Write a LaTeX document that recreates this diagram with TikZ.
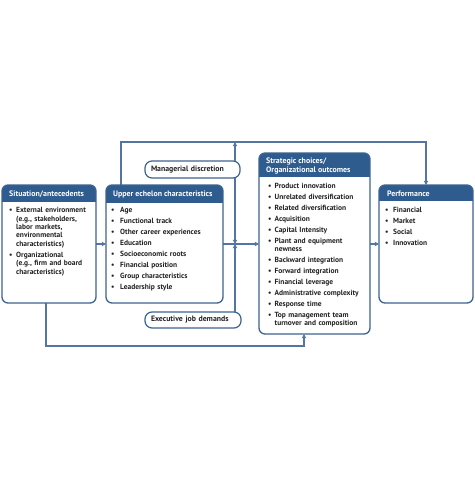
\documentclass[tikz,border=0pt]{standalone}
\usepackage{fontspec}
\setmainfont{PT Sans}
\usetikzlibrary{arrows.meta}
\definecolor{hdr}{HTML}{2E5C8F}
\definecolor{bord}{HTML}{3D6391}
\definecolor{conn}{HTML}{5474A2}
\definecolor{txt}{HTML}{222222}
\newlength\bind
\newcommand{\itm}[1]{\par\hangindent=\bind\hangafter=1\noindent\makebox[\bind][l]{\textbullet}#1}
\newcommand{\panel}[2]{%
  \fill[white, rounded corners=6pt] (#1.north west) rectangle (#1.south east);
  \begin{scope}
    \clip[rounded corners=6pt] (#1.north west) rectangle (#1.south east);
    \fill[hdr] (#1.north west) rectangle ([yshift=-#2]#1.north east);
  \end{scope}
  \draw[bord, line width=1.3pt, rounded corners=6pt] (#1.north west) rectangle (#1.south east);}
\begin{document}
\begin{tikzpicture}[x=1pt,y=-1pt,
  boxarea/.style={minimum width=#1, inner sep=0pt, outer sep=0pt},
  hdrtext/.style={text=white, font=\bfseries\fontsize{7.9}{9}\selectfont, inner sep=0pt, align=left},
  listtext/.style={text=txt, font=\bfseries\fontsize{7.45}{8.4}\selectfont, inner sep=0pt, anchor=north west, align=left},
  pill/.style={draw=bord, line width=1.2pt, rounded corners=7pt, fill=white, inner xsep=6pt, inner ysep=0pt, outer sep=0pt,
     text=txt, font=\bfseries\fontsize{7.8}{8.4}\selectfont, align=left},
  connector/.style={draw=conn, line width=1.1pt, -{Triangle[width=4.2pt,length=4.2pt]}}
]
\useasboundingbox[fill=white] (0,0) rectangle (474,484);

% panels
\node[boxarea=94pt, minimum height=118pt] (sit) at (49,244) {};
\node[boxarea=117pt, minimum height=118pt] (upp) at (164.5,244) {};
\node[boxarea=111pt, minimum height=181pt] (str) at (314.5,243.5) {};
\node[boxarea=94pt, minimum height=118pt] (perf) at (426,244) {};

% coordinates for connector bends
\coordinate (tl) at (121,142);
\coordinate (tr) at (426,142);
\coordinate (mtop) at (235,142);
\coordinate (mmid) at (235,244);
\coordinate (bl) at (46,346);
\coordinate (br) at (304,346);

% connectors
\draw[connector] ([xshift=15pt]upp.north west) -- (tl) -- (tr) -- (perf.north);
\draw[connector] (sit.south -| bl) -- (bl) -- (br) -- (br |- str.south);
\draw[connector] (sit.east) -- (upp.west);
\draw[connector] (upp.east) -- (upp.east -| str.west);
\draw[connector] (str.east |- perf.west) -- (perf.west);

\panel{sit}{17pt}
\panel{upp}{18pt}
\panel{str}{24pt}
\panel{perf}{16pt}

% moderators
\node[pill, text width=83pt, minimum height=17pt] (mgr) at (192.5,169.5) {Managerial discretion};
\node[pill, text width=84pt, minimum height=16pt] (exe) at (193,320) {Executive job demands};
\draw[connector] (mgr.north -| mtop) -- (mtop);
\draw[connector] (mgr.south -| mtop) -- (mmid);
\draw[connector] (exe.north -| mtop) -- (mmid);

% headers
\node[hdrtext, anchor=west] (sith) at (9,194) {Situation/antecedents};
\node[hdrtext, anchor=west] (upph) at (113,194.5) {Upper echelon characteristics};
\node[hdrtext, anchor=west] (strh) at (266,166) {Strategic choices/\\Organizational outcomes};
\node[hdrtext, anchor=west] (perfh) at (387,193.5) {Performance};

% lists
\node[listtext, text width=88pt] (sitl) at (9,201.5) {\setlength\bind{7pt}\setlength\parskip{2.6pt}%
\itm{\rule{0pt}{6pt}External environment\newline(e.g., stakeholders,\newline labor markets,\newline environmental\newline characteristics)}
\itm{Organizational\newline(e.g., firm and board\newline characteristics)}\par};

\node[listtext, text width=110pt] (uppl) at (111,201.5) {\setlength\bind{9pt}\setlength\parskip{2.6pt}%
\itm{\rule{0pt}{6pt}Age}
\itm{Functional track}
\itm{Other career experiences}
\itm{Education}
\itm{Socioeconomic roots}
\itm{Financial position}
\itm{Group characteristics}
\itm{Leadership style}\par};

\node[listtext, text width=108pt] (strl) at (268,176.8) {\setlength\bind{6.5pt}\setlength\parskip{2.6pt}%
\itm{\rule{0pt}{6pt}Product innovation}
\itm{Unrelated diversification}
\itm{Related diversification}
\itm{Acquisition}
\itm{Capital Intensity}
\itm{Plant and equipment\newline newness}
\itm{Backward integration}
\itm{Forward integration}
\itm{Financial leverage}
\itm{Administrative complexity}
\itm{Response time}
\itm{Top management team\newline turnover and composition}\par};

\node[listtext, text width=90pt] (perfl) at (385,201.5) {\setlength\bind{8pt}\setlength\parskip{2.6pt}%
\itm{\rule{0pt}{6pt}Financial}
\itm{Market}
\itm{Social}
\itm{Innovation}\par};
\end{tikzpicture}
\end{document}
